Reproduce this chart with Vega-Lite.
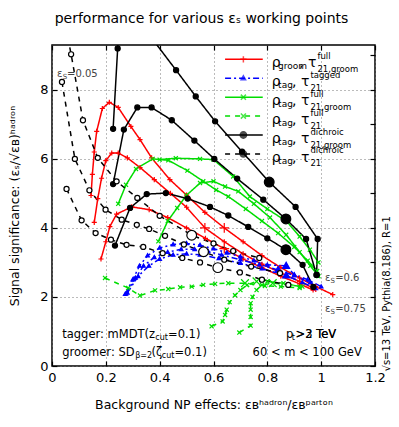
{
"$schema": "https://vega.github.io/schema/vega-lite/v6.json",
"width": 323, "height": 321,
"autosize": {"type": "none"},
"padding": {"left": 52, "top": 45, "right": 24, "bottom": 61},
"background": "white",
"title": {"text": "performance for various εₛ working points", "fontSize": 14, "font": "DejaVu Sans", "fontWeight": "normal", "anchor": "middle", "offset": 18, "dx": -12, "color": "black"},
"config": {"view": {"stroke": "black", "strokeWidth": 1.5}, "font": "DejaVu Sans"},
"datasets": {
"curves": [
{"s":"rg","c":"r1","x":0.145,"y":4.94},{"s":"rg","c":"r1","x":0.150,"y":5.55},{"s":"rg","c":"r1","x":0.157,"y":6.2},{"s":"rg","c":"r1","x":0.166,"y":6.80},{"s":"rg","c":"r1","x":0.187,"y":7.46},{"s":"rg","c":"r1","x":0.213,"y":7.64},{"s":"rg","c":"r1","x":0.246,"y":7.49},{"s":"rg","c":"r1","x":0.293,"y":6.94},{"s":"rg","c":"r1","x":0.327,"y":6.56},{"s":"rg","c":"r1","x":0.370,"y":6.03},{"s":"rg","c":"r1","x":0.438,"y":5.40},{"s":"rg","c":"r1","x":0.50,"y":4.95},{"s":"rg","c":"r1","x":0.568,"y":4.45},{"s":"rg","c":"r1","x":0.64,"y":4.0,"wp":"y"},{"s":"rg","c":"r1","x":0.71,"y":3.6},{"s":"rg","c":"r1","x":0.78,"y":3.2},{"s":"rg","c":"r1","x":0.85,"y":2.85},{"s":"rg","c":"r1","x":0.92,"y":2.55},{"s":"rg","c":"r1","x":0.98,"y":2.3},{"s":"rg","c":"r1","x":1.043,"y":2.07},
{"s":"rg","c":"r2","x":0.157,"y":4.16},{"s":"rg","c":"r2","x":0.170,"y":4.85},{"s":"rg","c":"r2","x":0.184,"y":5.44},{"s":"rg","c":"r2","x":0.200,"y":5.95},{"s":"rg","c":"r2","x":0.222,"y":6.17},{"s":"rg","c":"r2","x":0.246,"y":6.17},{"s":"rg","c":"r2","x":0.280,"y":6.03},{"s":"rg","c":"r2","x":0.327,"y":5.75},{"s":"rg","c":"r2","x":0.38,"y":5.4},{"s":"rg","c":"r2","x":0.44,"y":5.0},{"s":"rg","c":"r2","x":0.50,"y":4.6},{"s":"rg","c":"r2","x":0.568,"y":4.0,"wp":"y"},{"s":"rg","c":"r2","x":0.64,"y":3.6},{"s":"rg","c":"r2","x":0.71,"y":3.25},{"s":"rg","c":"r2","x":0.78,"y":2.95},{"s":"rg","c":"r2","x":0.85,"y":2.7},{"s":"rg","c":"r2","x":0.92,"y":2.45},{"s":"rg","c":"r2","x":0.98,"y":2.22},
{"s":"rg","c":"r3","x":0.182,"y":3.10},{"s":"rg","c":"r3","x":0.200,"y":3.6},{"s":"rg","c":"r3","x":0.215,"y":4.04},{"s":"rg","c":"r3","x":0.240,"y":4.4},{"s":"rg","c":"r3","x":0.296,"y":4.61},{"s":"rg","c":"r3","x":0.361,"y":4.53},{"s":"rg","c":"r3","x":0.43,"y":4.3},{"s":"rg","c":"r3","x":0.50,"y":4.0},{"s":"rg","c":"r3","x":0.57,"y":3.7},{"s":"rg","c":"r3","x":0.64,"y":3.4,"wp":"y"},{"s":"rg","c":"r3","x":0.71,"y":3.1},{"s":"rg","c":"r3","x":0.78,"y":2.85},{"s":"rg","c":"r3","x":0.85,"y":2.6},{"s":"rg","c":"r3","x":0.92,"y":2.38},{"s":"rg","c":"r3","x":0.97,"y":2.2},

{"s":"tt","c":"b1","x":0.272,"y":2.08},{"s":"tt","c":"b1","x":0.30,"y":2.5},{"s":"tt","c":"b1","x":0.325,"y":2.9},{"s":"tt","c":"b1","x":0.355,"y":3.2},{"s":"tt","c":"b1","x":0.40,"y":3.42},{"s":"tt","c":"b1","x":0.45,"y":3.52},{"s":"tt","c":"b1","x":0.50,"y":3.55},{"s":"tt","c":"b1","x":0.55,"y":3.50},{"s":"tt","c":"b1","x":0.60,"y":3.40},{"s":"tt","c":"b1","x":0.65,"y":3.28},{"s":"tt","c":"b1","x":0.70,"y":3.17},{"s":"tt","c":"b1","x":0.75,"y":3.05},{"s":"tt","c":"b1","x":0.80,"y":2.93},{"s":"tt","c":"b1","x":0.87,"y":2.9,"wp":"y"},{"s":"tt","c":"b1","x":0.90,"y":2.65},{"s":"tt","c":"b1","x":0.95,"y":2.50},{"s":"tt","c":"b1","x":1.0,"y":2.30},
{"s":"tt","c":"b2","x":0.275,"y":2.10},{"s":"tt","c":"b2","x":0.31,"y":2.55},{"s":"tt","c":"b2","x":0.34,"y":2.9},{"s":"tt","c":"b2","x":0.38,"y":3.15},{"s":"tt","c":"b2","x":0.43,"y":3.3},{"s":"tt","c":"b2","x":0.48,"y":3.38},{"s":"tt","c":"b2","x":0.53,"y":3.38},{"s":"tt","c":"b2","x":0.58,"y":3.32},{"s":"tt","c":"b2","x":0.63,"y":3.22},{"s":"tt","c":"b2","x":0.70,"y":3.08},{"s":"tt","c":"b2","x":0.77,"y":2.94},{"s":"tt","c":"b2","x":0.84,"y":2.78,"wp":"y"},{"s":"tt","c":"b2","x":0.90,"y":2.62},{"s":"tt","c":"b2","x":0.96,"y":2.42},
{"s":"tt","c":"b3","x":0.28,"y":2.12},{"s":"tt","c":"b3","x":0.32,"y":2.6},{"s":"tt","c":"b3","x":0.36,"y":2.9},{"s":"tt","c":"b3","x":0.40,"y":3.1},{"s":"tt","c":"b3","x":0.45,"y":3.22},{"s":"tt","c":"b3","x":0.50,"y":3.25},{"s":"tt","c":"b3","x":0.55,"y":3.22},{"s":"tt","c":"b3","x":0.62,"y":3.12},{"s":"tt","c":"b3","x":0.70,"y":2.98},{"s":"tt","c":"b3","x":0.78,"y":2.82},{"s":"tt","c":"b3","x":0.87,"y":2.62,"wp":"y"},{"s":"tt","c":"b3","x":0.93,"y":2.42},{"s":"tt","c":"b3","x":0.98,"y":2.25},

{"s":"gg","c":"g1","x":0.246,"y":4.70},{"s":"gg","c":"g1","x":0.275,"y":5.25},{"s":"gg","c":"g1","x":0.312,"y":5.71},{"s":"gg","c":"g1","x":0.374,"y":6.0},{"s":"gg","c":"g1","x":0.432,"y":5.96},{"s":"gg","c":"g1","x":0.503,"y":5.66},{"s":"gg","c":"g1","x":0.562,"y":5.35},{"s":"gg","c":"g1","x":0.61,"y":5.1},{"s":"gg","c":"g1","x":0.655,"y":4.91},{"s":"gg","c":"g1","x":0.72,"y":4.55},{"s":"gg","c":"g1","x":0.78,"y":4.2},{"s":"gg","c":"g1","x":0.84,"y":3.85},{"s":"gg","c":"g1","x":0.90,"y":3.45},{"s":"gg","c":"g1","x":0.95,"y":3.05},{"s":"gg","c":"g1","x":0.985,"y":2.75},
{"s":"gg","c":"g2","x":0.40,"y":5.98},{"s":"gg","c":"g2","x":0.46,"y":6.02},{"s":"gg","c":"g2","x":0.55,"y":6.0},{"s":"gg","c":"g2","x":0.60,"y":5.98},{"s":"gg","c":"g2","x":0.673,"y":5.49},{"s":"gg","c":"g2","x":0.735,"y":4.91},{"s":"gg","c":"g2","x":0.80,"y":4.55},{"s":"gg","c":"g2","x":0.872,"y":4.19},{"s":"gg","c":"g2","x":0.92,"y":3.75},{"s":"gg","c":"g2","x":0.958,"y":3.37},{"s":"gg","c":"g2","x":0.99,"y":3.0},
{"s":"gg","c":"g3","x":0.395,"y":3.61},{"s":"gg","c":"g3","x":0.43,"y":4.2},{"s":"gg","c":"g3","x":0.465,"y":4.58},{"s":"gg","c":"g3","x":0.50,"y":4.95},{"s":"gg","c":"g3","x":0.55,"y":5.3},{"s":"gg","c":"g3","x":0.60,"y":5.35},{"s":"gg","c":"g3","x":0.643,"y":5.2},{"s":"gg","c":"g3","x":0.692,"y":5.06},{"s":"gg","c":"g3","x":0.75,"y":4.7},{"s":"gg","c":"g3","x":0.81,"y":4.3},{"s":"gg","c":"g3","x":0.87,"y":3.8},{"s":"gg","c":"g3","x":0.92,"y":3.3},{"s":"gg","c":"g3","x":0.96,"y":2.9},{"s":"gg","c":"g3","x":0.99,"y":2.6},

{"s":"gf","c":"f1","x":0.197,"y":2.55},{"s":"gf","c":"f1","x":0.283,"y":2.26},{"s":"gf","c":"f1","x":0.327,"y":2.04},{"s":"gf","c":"f1","x":0.383,"y":2.19},{"s":"gf","c":"f1","x":0.432,"y":2.23},{"s":"gf","c":"f1","x":0.476,"y":2.28},{"s":"gf","c":"f1","x":0.519,"y":2.30},{"s":"gf","c":"f1","x":0.562,"y":2.35},{"s":"gf","c":"f1","x":0.606,"y":2.38},{"s":"gf","c":"f1","x":0.655,"y":2.40},{"s":"gf","c":"f1","x":0.717,"y":2.40,"wp":"y"},{"s":"gf","c":"f1","x":0.791,"y":2.32},{"s":"gf","c":"f1","x":0.85,"y":2.3},{"s":"gf","c":"f1","x":0.92,"y":2.26},
{"s":"gf","c":"f2","x":0.593,"y":1.15},{"s":"gf","c":"f2","x":0.634,"y":1.29},{"s":"gf","c":"f2","x":0.643,"y":1.48},{"s":"gf","c":"f2","x":0.649,"y":1.63},{"s":"gf","c":"f2","x":0.66,"y":1.85},{"s":"gf","c":"f2","x":0.68,"y":2.05},{"s":"gf","c":"f2","x":0.70,"y":2.2},{"s":"gf","c":"f2","x":0.725,"y":2.35},{"s":"gf","c":"f2","x":0.76,"y":2.45,"wp":"y"},{"s":"gf","c":"f2","x":0.80,"y":2.45},{"s":"gf","c":"f2","x":0.86,"y":2.4},{"s":"gf","c":"f2","x":0.92,"y":2.3},
{"s":"gf","c":"f3","x":0.696,"y":0.97},{"s":"gf","c":"f3","x":0.738,"y":1.17},{"s":"gf","c":"f3","x":0.738,"y":1.42},{"s":"gf","c":"f3","x":0.738,"y":1.63},{"s":"gf","c":"f3","x":0.738,"y":1.82},{"s":"gf","c":"f3","x":0.745,"y":2.0},{"s":"gf","c":"f3","x":0.76,"y":2.2},{"s":"gf","c":"f3","x":0.78,"y":2.35},{"s":"gf","c":"f3","x":0.82,"y":2.4,"wp":"y"},{"s":"gf","c":"f3","x":0.88,"y":2.35},{"s":"gf","c":"f3","x":0.93,"y":2.3},

{"s":"dg","c":"dA","x":0.314,"y":10.08},{"s":"dg","c":"dA","x":0.461,"y":8.57},{"s":"dg","c":"dA","x":0.534,"y":7.81},{"s":"dg","c":"dA","x":0.606,"y":7.09},{"s":"dg","c":"dA","x":0.706,"y":6.21},{"s":"dg","c":"dA","x":0.807,"y":5.33,"wp":"y"},{"s":"dg","c":"dA","x":0.905,"y":4.61},{"s":"dg","c":"dA","x":0.987,"y":3.68},{"s":"dg","c":"dA","x":0.983,"y":2.64},
{"s":"dg","c":"dB","x":0.227,"y":5.27},{"s":"dg","c":"dB","x":0.267,"y":6.85},{"s":"dg","c":"dB","x":0.317,"y":7.49},{"s":"dg","c":"dB","x":0.370,"y":7.49},{"s":"dg","c":"dB","x":0.445,"y":7.12},{"s":"dg","c":"dB","x":0.529,"y":6.53},{"s":"dg","c":"dB","x":0.603,"y":6.0},{"s":"dg","c":"dB","x":0.688,"y":5.43},{"s":"dg","c":"dB","x":0.785,"y":4.82},{"s":"dg","c":"dB","x":0.869,"y":4.26,"wp":"y"},{"s":"dg","c":"dB","x":0.944,"y":3.68},{"s":"dg","c":"dB","x":0.983,"y":2.64},
{"s":"dg","c":"dC","x":0.248,"y":10.0},{"s":"dg","c":"dC","x":0.244,"y":9.20},{"s":"dg","c":"dC","x":0.227,"y":6.87},
{"s":"dg","c":"dD","x":0.234,"y":3.49},{"s":"dg","c":"dD","x":0.290,"y":4.58},{"s":"dg","c":"dD","x":0.352,"y":4.98},{"s":"dg","c":"dD","x":0.423,"y":5.01},{"s":"dg","c":"dD","x":0.504,"y":4.85},{"s":"dg","c":"dD","x":0.587,"y":4.61},{"s":"dg","c":"dD","x":0.655,"y":4.36},{"s":"dg","c":"dD","x":0.729,"y":4.03},{"s":"dg","c":"dD","x":0.80,"y":3.7},{"s":"dg","c":"dD","x":0.869,"y":3.37,"wp":"y"},{"s":"dg","c":"dD","x":0.931,"y":2.93},{"s":"dg","c":"dD","x":0.971,"y":2.29},

{"s":"df","c":"k1","x":0.052,"y":9.8},{"s":"df","c":"k1","x":0.071,"y":9.03},{"s":"df","c":"k1","x":0.115,"y":7.12},{"s":"df","c":"k1","x":0.170,"y":6.03},{"s":"df","c":"k1","x":0.24,"y":5.35},{"s":"df","c":"k1","x":0.317,"y":4.87},{"s":"df","c":"k1","x":0.40,"y":4.35},{"s":"df","c":"k1","x":0.519,"y":3.79,"wp":"y"},{"s":"df","c":"k1","x":0.60,"y":3.55},{"s":"df","c":"k1","x":0.673,"y":3.33},{"s":"df","c":"k1","x":0.77,"y":3.13},
{"s":"df","c":"k2","x":0.037,"y":8.23},{"s":"df","c":"k2","x":0.085,"y":6.0},{"s":"df","c":"k2","x":0.139,"y":5.09},{"s":"df","c":"k2","x":0.199,"y":4.53},{"s":"df","c":"k2","x":0.259,"y":4.24},{"s":"df","c":"k2","x":0.315,"y":4.09},{"s":"df","c":"k2","x":0.361,"y":3.97},{"s":"df","c":"k2","x":0.42,"y":3.77},{"s":"df","c":"k2","x":0.49,"y":3.52},{"s":"df","c":"k2","x":0.563,"y":3.31,"wp":"y"},{"s":"df","c":"k2","x":0.64,"y":3.08},{"s":"df","c":"k2","x":0.74,"y":2.88},{"s":"df","c":"k2","x":0.847,"y":2.69},
{"s":"df","c":"k3","x":0.054,"y":5.13},{"s":"df","c":"k3","x":0.110,"y":4.22},{"s":"df","c":"k3","x":0.162,"y":3.85},{"s":"df","c":"k3","x":0.219,"y":3.66},{"s":"df","c":"k3","x":0.277,"y":3.51},{"s":"df","c":"k3","x":0.339,"y":3.45},{"s":"df","c":"k3","x":0.411,"y":3.27},{"s":"df","c":"k3","x":0.484,"y":3.13},{"s":"df","c":"k3","x":0.55,"y":3.0},{"s":"df","c":"k3","x":0.616,"y":2.85,"wp":"y"},{"s":"df","c":"k3","x":0.698,"y":2.71},{"s":"df","c":"k3","x":0.78,"y":2.5},{"s":"df","c":"k3","x":0.878,"y":2.35}
],
"legend": [
{"s":"rg","rank":1,"rs":"groom","ts":"full","tb":"21,groom"},
{"s":"tt","rank":2,"rs":"tag","ts":"tagged","tb":"21"},
{"s":"gg","rank":3,"rs":"tag","ts":"full","tb":"21,groom"},
{"s":"gf","rank":4,"rs":"tag","ts":"full","tb":"21"},
{"s":"dg","rank":5,"rs":"tag","ts":"dichroic","tb":"21,groom"},
{"s":"df","rank":6,"rs":"tag","ts":"dichroic","tb":"21"}
],
"one": [{}]
},
"layer": [
{
"layer": [
{
"data": {"name": "curves"},
"mark": {"type": "line", "strokeWidth": 1.5, "clip": true},
"encoding": {
"x": {"field": "x", "type": "quantitative", "scale": {"domain": [0, 1.2], "nice": false, "zero": false},
 "axis": {"values": [0,0.2,0.4,0.6,0.8,1,1.2], "format": "~g", "title": "Background NP effects: εʙʰᵃᵈʳᵒⁿ/εʙᵖᵃʳᵗᵒⁿ", "titleFontSize": 12.5, "titleFontWeight": "normal", "titleColor": "black", "titlePadding": 14, "labelFontSize": 13, "labelColor": "black", "labelPadding": 10, "tickSize": -5, "tickWidth": 1.2, "tickColor": "black", "domain": false, "grid": true, "gridDash": [1, 3], "gridColor": "#777", "labelFlush": false}},
"y": {"field": "y", "type": "quantitative", "scale": {"domain": [0, 9.3], "nice": false, "zero": false},
 "axis": {"values": [0,1,2,3,4,5,6,7,8,9], "title": "Signal significance: (εₛ/√εʙ)ʰᵃᵈʳᵒⁿ", "titleFontSize": 12.5, "titleFontWeight": "normal", "titleColor": "black", "titlePadding": 18, "labelFontSize": 13, "labelColor": "black", "labelPadding": 9, "tickSize": -5, "tickWidth": 1.2, "tickColor": "black", "domain": false, "grid": true, "gridDash": [1, 3], "gridColor": "#777", "labelFlush": false}},
"color": {"field": "s", "type": "nominal", "scale": {"domain": ["rg","tt","gg","gf","dg","df"], "range": ["#ff0000","#0000ff","#00dd00","#00dd00","#000000","#000000"]}, "legend": null},
"strokeDash": {"field": "s", "type": "nominal", "scale": {"domain": ["rg","tt","gg","gf","dg","df"], "range": [[1,0],[6,3,2,3],[1,0],[5,5],[1,0],[5,5]]}, "legend": null},
"detail": {"field": "c"},
"order": {"value": null}
}
},
{
"data": {"name": "curves"},
"mark": {"type": "point", "filled": true, "strokeWidth": 1.2, "clip": true, "opacity": 1},
"encoding": {
"x": {"field": "x", "type": "quantitative"},
"y": {"field": "y", "type": "quantitative"},
"shape": {"field": "s", "type": "nominal", "scale": {"domain": ["rg","tt","gg","gf","dg","df"], "range": ["M-1,0L1,0M0,-1L0,1","M0,-0.75L0.7,0.5L-0.7,0.5Z","M-0.8,-0.8L0.8,0.8M-0.8,0.8L0.8,-0.8","M-0.8,-0.8L0.8,0.8M-0.8,0.8L0.8,-0.8","circle","circle"]}, "legend": null},
"fill": {"field": "s", "type": "nominal", "scale": {"domain": ["rg","tt","gg","gf","dg","df"], "range": ["transparent","#0000ff","transparent","transparent","#000000","#ffffff"]}, "legend": null},
"stroke": {"field": "s", "type": "nominal", "scale": {"domain": ["rg","tt","gg","gf","dg","df"], "range": ["#ff0000","#0000ff","#00dd00","#00dd00","#000000","#000000"]}, "legend": null},
"size": {"condition": {"test": "datum.wp === 'y'", "value": 95}, "value": 26}
}
},
{"data": {"name": "one"}, "mark": {"type": "text", "align": "left", "fontSize": 10, "color": "#444"}, "encoding": {"x": {"datum": 0.019}, "y": {"datum": 8.47}, "text": {"value": "ε"}}},
{"data": {"name": "one"}, "mark": {"type": "text", "align": "left", "fontSize": 7, "color": "#444", "dy": 3}, "encoding": {"x": {"datum": 0.040}, "y": {"datum": 8.47}, "text": {"value": "S"}}},
{"data": {"name": "one"}, "mark": {"type": "text", "align": "left", "fontSize": 10, "color": "#444"}, "encoding": {"x": {"datum": 0.056}, "y": {"datum": 8.47}, "text": {"value": "=0.05"}}},
{"data": {"name": "one"}, "mark": {"type": "text", "align": "left", "fontSize": 10, "color": "#444"}, "encoding": {"x": {"datum": 1.014}, "y": {"datum": 2.56}, "text": {"value": "ε"}}},
{"data": {"name": "one"}, "mark": {"type": "text", "align": "left", "fontSize": 7, "color": "#444", "dy": 3}, "encoding": {"x": {"datum": 1.035}, "y": {"datum": 2.56}, "text": {"value": "S"}}},
{"data": {"name": "one"}, "mark": {"type": "text", "align": "left", "fontSize": 10, "color": "#444"}, "encoding": {"x": {"datum": 1.052}, "y": {"datum": 2.56}, "text": {"value": "=0.6"}}},
{"data": {"name": "one"}, "mark": {"type": "text", "align": "left", "fontSize": 10, "color": "#444"}, "encoding": {"x": {"datum": 1.014}, "y": {"datum": 1.65}, "text": {"value": "ε"}}},
{"data": {"name": "one"}, "mark": {"type": "text", "align": "left", "fontSize": 7, "color": "#444", "dy": 3}, "encoding": {"x": {"datum": 1.035}, "y": {"datum": 1.65}, "text": {"value": "S"}}},
{"data": {"name": "one"}, "mark": {"type": "text", "align": "left", "fontSize": 10, "color": "#444"}, "encoding": {"x": {"datum": 1.052}, "y": {"datum": 1.65}, "text": {"value": "=0.75"}}},
{"data": {"name": "one"}, "mark": {"type": "text", "align": "left", "fontSize": 11.5}, "encoding": {"x": {"datum": 0.038}, "y": {"datum": 0.91}, "text": {"value": "tagger: mMDT(z"}}},
{"data": {"name": "one"}, "mark": {"type": "text", "align": "left", "fontSize": 8, "dy": 3}, "encoding": {"x": {"datum": 0.384}, "y": {"datum": 0.91}, "text": {"value": "cut"}}},
{"data": {"name": "one"}, "mark": {"type": "text", "align": "left", "fontSize": 11.5}, "encoding": {"x": {"datum": 0.431}, "y": {"datum": 0.91}, "text": {"value": "=0.1)"}}},
{"data": {"name": "one"}, "mark": {"type": "text", "align": "left", "fontSize": 11.5}, "encoding": {"x": {"datum": 0.038}, "y": {"datum": 0.39}, "text": {"value": "groomer: SD"}}},
{"data": {"name": "one"}, "mark": {"type": "text", "align": "left", "fontSize": 8, "dy": 3}, "encoding": {"x": {"datum": 0.309}, "y": {"datum": 0.39}, "text": {"value": "β=2"}}},
{"data": {"name": "one"}, "mark": {"type": "text", "align": "left", "fontSize": 11.5}, "encoding": {"x": {"datum": 0.370}, "y": {"datum": 0.39}, "text": {"value": "(ζ"}}},
{"data": {"name": "one"}, "mark": {"type": "text", "align": "left", "fontSize": 8, "dy": 3}, "encoding": {"x": {"datum": 0.408}, "y": {"datum": 0.39}, "text": {"value": "cut"}}},
{"data": {"name": "one"}, "mark": {"type": "text", "align": "left", "fontSize": 11.5}, "encoding": {"x": {"datum": 0.455}, "y": {"datum": 0.39}, "text": {"value": "=0.1)"}}},
{"data": {"name": "one"}, "mark": {"type": "text", "align": "left", "fontSize": 11.5}, "encoding": {"x": {"datum": 0.869}, "y": {"datum": 0.91}, "text": {"value": "p"}}},
{"data": {"name": "one"}, "mark": {"type": "text", "align": "left", "fontSize": 8, "dy": 3}, "encoding": {"x": {"datum": 0.891}, "y": {"datum": 0.91}, "text": {"value": "t"}}},
{"data": {"name": "one"}, "mark": {"type": "text", "align": "left", "fontSize": 11.5}, "encoding": {"x": {"datum": 0.905}, "y": {"datum": 0.91}, "text": {"value": ">2 TeV"}}},
{"data": {"name": "one"}, "mark": {"type": "text", "align": "left", "fontSize": 11.5}, "encoding": {"x": {"datum": 0.905}, "y": {"datum": 0.91}, "text": {"value": ">3 TeV"}}},
{"data": {"name": "one"}, "mark": {"type": "text", "align": "right", "fontSize": 11.5}, "encoding": {"x": {"datum": 1.151}, "y": {"datum": 0.39}, "text": {"value": "60 < m < 100 GeV"}}},
{"data": {"name": "one"}, "mark": {"type": "text", "align": "center", "baseline": "middle", "angle": 270, "fontSize": 10}, "encoding": {"x": {"datum": 1.243}, "y": {"datum": 2.09}, "text": {"value": "√s=13 TeV, Pythia(8.186), R=1"}}}
]
},
{
"data": {"name": "legend"},
"encoding": {"y": {"field": "rank", "type": "quantitative", "scale": {"domain": [0.245, 17.2], "reverse": true, "nice": false, "zero": false}, "axis": null}},
"layer": [
{"mark": {"type": "rule", "strokeWidth": 1.5},
 "encoding": {"x": {"datum": 0.643, "axis": null}, "x2": {"datum": 0.783},
 "color": {"field": "s", "type": "nominal", "legend": null},
 "strokeDash": {"field": "s", "type": "nominal", "legend": null}}},
{"mark": {"type": "point", "filled": true, "strokeWidth": 1.5, "size": 40},
 "encoding": {"x": {"datum": 0.711, "axis": null},
 "shape": {"field": "s", "type": "nominal", "legend": null},
 "fill": {"field": "s", "type": "nominal", "legend": null, "condition": {"test": "datum.s === 'df'", "value": "#000000"}},
 "stroke": {"field": "s", "type": "nominal", "legend": null}}},
{"mark": {"type": "text", "align": "left", "fontSize": 14, "dy": 4}, "encoding": {"x": {"datum": 0.816, "axis": null}, "text": {"value": "ρ"}}},
{"mark": {"type": "text", "align": "left", "fontSize": 9, "dy": 7}, "encoding": {"x": {"datum": 0.840, "axis": null}, "text": {"field": "rs"}}},
{"transform": [{"filter": "datum.rank === 1"}], "mark": {"type": "text", "align": "left", "fontSize": 14, "dy": 4}, "encoding": {"x": {"datum": 0.918, "axis": null}, "text": {"value": ", τ"}}},
{"transform": [{"filter": "datum.rank === 1"}], "mark": {"type": "text", "align": "left", "fontSize": 8.5, "dy": -3.5}, "encoding": {"x": {"datum": 0.986, "axis": null}, "text": {"field": "ts"}}},
{"transform": [{"filter": "datum.rank === 1"}], "mark": {"type": "text", "align": "left", "fontSize": 8.5, "dy": 9.5}, "encoding": {"x": {"datum": 0.986, "axis": null}, "text": {"field": "tb"}}},
{"transform": [{"filter": "datum.rank > 1"}], "mark": {"type": "text", "align": "left", "fontSize": 14, "dy": 4}, "encoding": {"x": {"datum": 0.892, "axis": null}, "text": {"value": ", τ"}}},
{"transform": [{"filter": "datum.rank > 1"}], "mark": {"type": "text", "align": "left", "fontSize": 8.5, "dy": -3.5}, "encoding": {"x": {"datum": 0.960, "axis": null}, "text": {"field": "ts"}}},
{"transform": [{"filter": "datum.rank > 1"}], "mark": {"type": "text", "align": "left", "fontSize": 8.5, "dy": 9.5}, "encoding": {"x": {"datum": 0.960, "axis": null}, "text": {"field": "tb"}}}
]
},
{
"data": {"name": "one"},
"mark": {"type": "point", "opacity": 0},
"encoding": {
"x": {"datum": 0, "axis": {"orient": "top", "values": [0,0.2,0.4,0.6,0.8,1,1.2], "labels": false, "title": null, "grid": false, "domain": false, "tickSize": -5, "tickWidth": 1.2, "tickColor": "black"}},
"y": {"datum": 0, "scale": {"domain": [0, 9.3], "nice": false, "zero": false}, "axis": {"orient": "right", "values": [0,1,2,3,4,5,6,7,8,9], "labels": false, "title": null, "grid": false, "domain": false, "tickSize": -5, "tickWidth": 1.2, "tickColor": "black"}}
}
}
],
"resolve": {"scale": {"y": "independent"}, "axis": {"x": "independent"}}
}
